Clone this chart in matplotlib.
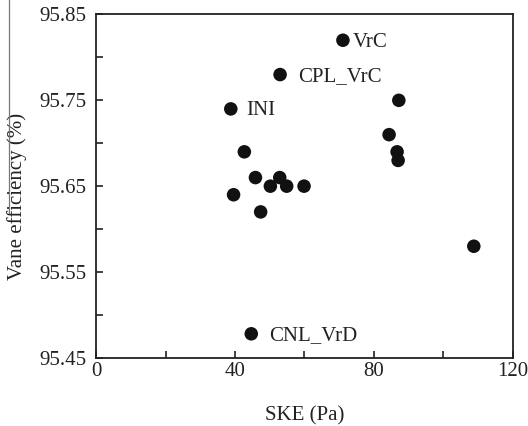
import matplotlib
matplotlib.use('Agg')
from matplotlib import pyplot as plt
from matplotlib.lines import Line2D
from matplotlib.ticker import FixedLocator, FormatStrFormatter

plt.rcParams['font.family'] = ['Liberation Serif', 'DejaVu Serif']
plt.rcParams['font.size'] = 15

#%%
# SKE against vane efficiency for each design case
ske = [71.1, 53.0, 38.8, 44.7,
       87.2, 84.4, 86.7, 87.0, 42.7, 45.9, 52.9, 50.2,
       54.9, 59.9, 39.6, 47.4, 108.8]
efficiency = [95.82, 95.78, 95.74, 95.478,
              95.75, 95.71, 95.69, 95.68, 95.69, 95.66, 95.66, 95.65,
              95.65, 95.65, 95.64, 95.62, 95.58]
case_names = ['VrC', 'CPL_VrC', 'INI', 'CNL_VrD']
name_offsets = [7, 13, 11, 12.5]

x_major = [0, 40, 80, 120]
x_minor = [20, 60, 100]
y_major = [95.45, 95.55, 95.65, 95.75, 95.85]
y_minor = [95.50, 95.60, 95.70, 95.80]

#%%
fig = plt.figure(figsize=(5.28, 4.26), dpi=100)
ax = fig.add_axes([0.182, 0.160, 0.789, 0.806])

ax.scatter(ske, efficiency, s=95, color='#111111', edgecolors='none', zorder=3)
for name, x, y, dx in zip(case_names, ske, efficiency, name_offsets):
    ax.annotate(name, (x, y), xytext=(dx, -1.5), textcoords='offset points',
                va='center', ha='left', fontsize=15, color='#222222')

ax.set_xlim(0, 120)
ax.set_ylim(95.45, 95.85)
ax.xaxis.set_major_locator(FixedLocator(x_major))
ax.xaxis.set_minor_locator(FixedLocator(x_minor))
ax.yaxis.set_major_locator(FixedLocator(y_major))
ax.yaxis.set_minor_locator(FixedLocator(y_minor))
ax.yaxis.set_major_formatter(FormatStrFormatter('%.2f'))
ax.tick_params(which='both', direction='in', top=False, right=False,
               length=5, width=1.2, colors='#222222', labelsize=15)
ax.tick_params(axis='x', pad=3)
ax.tick_params(axis='y', pad=7)
for spine in ax.spines.values():
    spine.set_linewidth(1.3)
    spine.set_color('#222222')

ax.set_xlabel('SKE (Pa)', fontsize=15, color='#222222', labelpad=18)
ax.set_ylabel('Vane efficiency (%)', fontsize=15, color='#222222')
ax.yaxis.set_label_coords(-0.165, 0.47)

# thin rule along the left edge
fig.add_artist(Line2D([8.5 / 528, 8.5 / 528], [1.0, 1 - 213 / 426],
                      color='#777777', linewidth=0.9))

fig.savefig('out.png', dpi=100)
